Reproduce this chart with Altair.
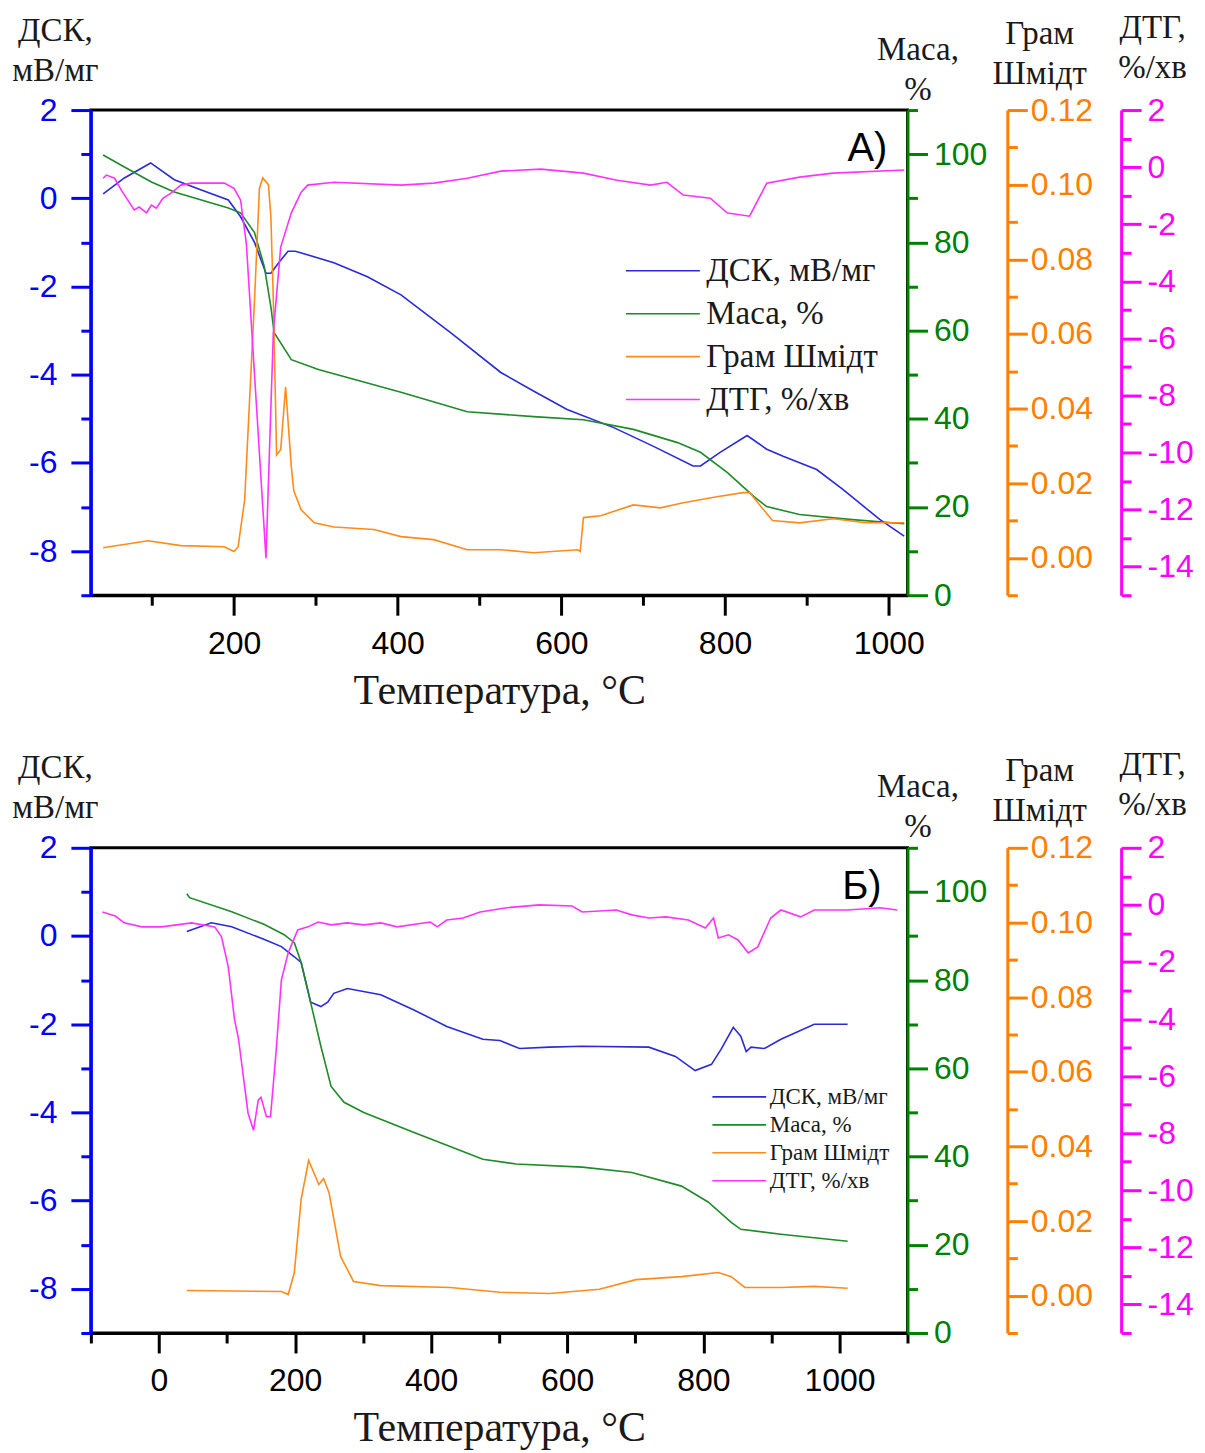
import altair as alt
import pandas as pd

# ---------------- Panel А ----------------
A_DSC_T = [40, 66, 98, 127, 160, 193, 208, 225, 239, 245, 255, 266, 275, 322, 363, 404, 465, 526, 567, 607, 664, 712, 761, 770, 794, 827, 851, 871, 912, 944, 989, 1019]
A_DSC_V = [0.1, 0.46, 0.8, 0.42, 0.19, -0.04, -0.42, -1.0, -1.7, -1.7, -1.45, -1.2, -1.2, -1.46, -1.78, -2.19, -3.05, -3.95, -4.38, -4.79, -5.2, -5.62, -6.07, -6.07, -5.76, -5.38, -5.69, -5.85, -6.15, -6.6, -7.28, -7.66]

A_MASS_T = [40, 66, 99, 127, 160, 193, 208, 225, 237, 245, 249, 270, 303, 404, 485, 566, 627, 688, 742, 770, 803, 835, 851, 891, 952, 1019]
A_MASS_V = [99.8, 97.1, 93.7, 91.4, 89.6, 87.8, 86.7, 82.2, 74.5, 65.4, 59.5, 53.4, 51.2, 46.0, 41.6, 40.5, 39.8, 37.6, 34.6, 32.4, 27.8, 22.4, 20.1, 18.3, 17.2, 16.2]

A_GS_T = [40, 95, 135, 188, 200, 205, 213, 219, 225, 231, 235, 242, 245, 248, 252, 257, 263, 270, 273, 282, 298, 322, 371, 404, 444, 485, 526, 566, 620, 623, 627, 648, 688, 721, 749, 790, 822, 830, 858, 891, 932, 972, 1019]
A_GS_V = [0.0027, 0.0046, 0.0033, 0.003, 0.0017, 0.003, 0.0156, 0.0424, 0.069, 0.099, 0.1018, 0.1, 0.0914, 0.069, 0.0276, 0.029, 0.0458, 0.0244, 0.018, 0.0129, 0.0094, 0.0083, 0.0076, 0.0057, 0.0049, 0.0022, 0.0022, 0.0014, 0.0022, 0.0017, 0.0108, 0.0113, 0.0142, 0.0134, 0.0148, 0.0164, 0.0175, 0.0175, 0.01, 0.0094, 0.0105, 0.0094, 0.0094]

A_DTG_T = [40, 44, 54, 62, 78, 84, 93, 99, 105, 113, 123, 135, 148, 188, 200, 208, 215, 239, 248, 257, 270, 282, 290, 322, 404, 444, 485, 526, 575, 627, 668, 709, 729, 749, 782, 803, 830, 851, 891, 932, 1019]
A_DTG_V = [-0.39, -0.28, -0.39, -0.8, -1.5, -1.4, -1.6, -1.33, -1.44, -1.09, -0.91, -0.63, -0.56, -0.56, -0.74, -1.16, -2.67, -13.7, -5.8, -2.8, -1.6, -0.88, -0.63, -0.53, -0.63, -0.56, -0.39, -0.14, -0.07, -0.21, -0.46, -0.63, -0.53, -0.98, -1.09, -1.61, -1.72, -0.56, -0.35, -0.21, -0.1]

# ---------------- Panel Б ----------------
B_DSC_T = [41, 77, 107, 155, 180, 199, 209, 223, 238, 248, 257, 277, 326, 374, 423, 476, 501, 530, 574, 622, 720, 759, 788, 812, 826, 844, 855, 863, 870, 890, 914, 963, 1012]
B_DSC_V = [0.1, 0.3, 0.21, -0.08, -0.24, -0.47, -0.6, -1.5, -1.6, -1.5, -1.3, -1.19, -1.33, -1.67, -2.05, -2.34, -2.37, -2.55, -2.52, -2.5, -2.52, -2.73, -3.05, -2.91, -2.57, -2.07, -2.27, -2.62, -2.52, -2.55, -2.34, -2.0, -2.0]

B_MASS_T = [41, 45, 107, 155, 184, 199, 209, 223, 238, 253, 272, 301, 374, 476, 525, 622, 695, 768, 807, 841, 855, 914, 1012]
B_MASS_V = [99.6, 98.7, 95.5, 92.6, 90.3, 88.5, 84.0, 74.9, 65.0, 55.9, 52.3, 50.0, 45.5, 39.4, 38.3, 37.6, 36.4, 33.3, 29.7, 25.1, 23.5, 22.4, 20.8]

B_GS_T = [41, 180, 190, 199, 209, 220, 235, 242, 250, 267, 286, 326, 428, 501, 574, 647, 701, 768, 822, 841, 861, 914, 963, 1012]
B_GS_V = [0.0014, 0.0011, 0.0003, 0.0062, 0.0258, 0.0362, 0.0298, 0.0314, 0.0276, 0.0105, 0.0038, 0.0027, 0.0022, 0.0009, 0.0006, 0.0017, 0.0043, 0.0051, 0.0062, 0.0051, 0.0022, 0.0022, 0.0025, 0.002]

B_DTG_T = [-83, -64, -51, -25, 4, 48, 82, 92, 102, 111, 117, 131, 139, 146, 150, 158, 164, 172, 180, 190, 204, 219, 234, 253, 277, 301, 326, 350, 399, 409, 423, 447, 472, 511, 559, 607, 622, 672, 695, 720, 745, 778, 803, 815, 822, 837, 851, 866, 880, 899, 914, 943, 963, 1012, 1060, 1085]
B_DTG_V = [-0.25, -0.39, -0.63, -0.77, -0.77, -0.63, -0.77, -1.12, -2.18, -4.0, -4.7, -7.3, -7.9, -6.84, -6.74, -7.42, -7.42, -5.2, -2.63, -1.68, -0.88, -0.77, -0.6, -0.7, -0.63, -0.7, -0.63, -0.77, -0.6, -0.77, -0.53, -0.46, -0.25, -0.1, 0.0, -0.04, -0.25, -0.18, -0.35, -0.46, -0.42, -0.53, -0.81, -0.46, -1.16, -1.05, -1.23, -1.68, -1.47, -0.46, -0.18, -0.42, -0.18, -0.18, -0.1, -0.18]

SERIES = ["ДСК, мВ/мг", "Маса, %", "Грам Шмідт", "ДТГ, %/хв"]
LINE_COLORS = ["#2a2ad8", "#1e8a28", "#ff8c1a", "#ff33ff"]
AX_BLUE, AX_GREEN, AX_ORANGE, AX_MAG = "#0000ff", "#008000", "#ff8000", "#ff00ff"

SANS = "Liberation Sans"
SERIF = "Liberation Serif"
TICK_FS = 32
TITLE_FS = 33
TITLE_COLOR = "#1a1a1a"
PLOT_W, PLOT_H = 818, 486


def lab_expr(major):
    return (f"({major}) ? (datum.value < 0 ? '-' + replace(datum.label, /[^0-9.]/g, '') : datum.label) : ''")


def yaxis(orient, offset, values, major, color, title, tx, ty, pad, fmt):
    return alt.Axis(
        orient=orient, offset=offset, values=values, format=fmt,
        domainColor=color, domainWidth=3, tickColor=color, tickWidth=3,
        tickSize={"condition": {"test": major, "value": 20}, "value": 10},
        labelExpr=lab_expr(major),
        labelColor=color, labelFont=SANS, labelFontSize=TICK_FS, labelPadding=pad,
        labelOverlap=False, labelFlush=False, grid=False,
        title=title, titleAngle=0, titleX=tx, titleY=ty, titleAlign="center",
        titleBaseline="bottom", titleFont=SERIF, titleFontSize=TITLE_FS,
        titleFontWeight="normal", titleColor=TITLE_COLOR, titleLineHeight=40,
    )


def xaxis(values):
    return alt.Axis(
        values=values, format="d",
        tickSize={"condition": {"test": "datum.value % 200 == 0", "value": 20}, "value": 10},
        labelExpr="datum.value % 200 == 0 ? datum.label : ''",
        domainColor="black", domainWidth=3, tickColor="black", tickWidth=3,
        labelFont=SANS, labelFontSize=TICK_FS, labelColor="black", labelPadding=13,
        labelOverlap=False, labelFlush=False, grid=False,
        title="Температура, °C", titleFont=SERIF, titleFontSize=42,
        titleFontWeight="normal", titleColor=TITLE_COLOR, titlePadding=11,
    )


def panel(data, x_domain, x_values, tag, tag_t, tag_v, leg):
    x = alt.X("T:Q", scale=alt.Scale(domain=x_domain, nice=False, zero=False), axis=xaxis(x_values))
    color = alt.Color("s:N", scale=alt.Scale(domain=SERIES, range=LINE_COLORS), legend=alt.Legend(**leg))
    specs = [
        ([-9, 2], yaxis("left", 0, list(range(-9, 3)), "abs(datum.value) % 2 == 0", AX_BLUE,
                        ["ДСК,", "мВ/мг"], -36, -63, 14, "d")),
        ([0, 110], yaxis("right", 0, list(range(0, 111, 10)), "datum.value % 20 == 0", AX_GREEN,
                         ["Маса,", "%"], 10, -44, 6, "d")),
        ([-0.01, 0.12], yaxis("right", 100, [round(-0.01 + 0.01 * i, 2) for i in range(14)],
                              "abs(round(datum.value * 100)) % 2 == 0", AX_ORANGE,
                              ["Грам", "Шмідт"], 32, -60, 3, ".2f")),
        ([-15, 2], yaxis("right", 214, list(range(-15, 3)), "abs(datum.value) % 2 == 0", AX_MAG,
                         ["ДТГ,", "%/хв"], 31, -66, 6, "d")),
    ]
    layers = []
    for (t, v), name, (dom, ax) in zip(data, SERIES, specs):
        df = pd.DataFrame({"T": t, "v": v, "s": name})
        layers.append(
            alt.Chart(df).mark_line(strokeWidth=1.6).encode(
                x=x,
                y=alt.Y("v:Q", scale=alt.Scale(domain=dom, nice=False, zero=False), axis=ax),
                color=color,
            )
        )
    tag_df = pd.DataFrame({"T": [tag_t], "v": [tag_v], "t": [tag]})
    layers.append(
        alt.Chart(tag_df).mark_text(font=SANS, fontSize=40, color="black", align="center", baseline="middle").encode(
            x=x,
            y=alt.Y("v:Q", scale=alt.Scale(domain=[-9, 2], nice=False, zero=False), axis=None),
            text="t:N",
        )
    )
    return (
        alt.layer(*layers)
        .resolve_scale(y="independent")
        .properties(width=PLOT_W, height=PLOT_H,
                    view=alt.ViewBackground(stroke="black", strokeWidth=3, fill="white"))
    )


legA = dict(orient="none", legendX=536, legendY=144.5, title=None, padding=0,
            symbolType="M-10,0H10", symbolSize=54.8, symbolOffset=20.5, symbolStrokeWidth=1.6,
            labelOffset=27, labelLimit=500, labelFont=SERIF, labelFontSize=33,
            labelColor=TITLE_COLOR, rowPadding=9)
legB = dict(orient="none", legendX=624, legendY=238, title=None, padding=0,
            symbolType="M-10,0H10", symbolSize=29, symbolOffset=14, symbolStrokeWidth=1.6,
            labelOffset=19, labelLimit=500, labelFont=SERIF, labelFontSize=23,
            labelColor=TITLE_COLOR, rowPadding=4)

pA = panel([(A_DSC_T, A_DSC_V), (A_MASS_T, A_MASS_V), (A_GS_T, A_GS_V), (A_DTG_T, A_DTG_V)],
           [25, 1023], list(range(100, 1001, 100)), "А)", 974, 1.12, legA)
pB = panel([(B_DSC_T, B_DSC_V), (B_MASS_T, B_MASS_V), (B_GS_T, B_GS_V), (B_DTG_T, B_DTG_V)],
           [-100, 1100], list(range(-100, 1101, 100)), "Б)", 1033, 1.12, legB)

chart = (
    alt.vconcat(pA, pB, spacing=34)
    .resolve_scale(color="independent", x="independent")
    .resolve_legend(color="independent")
    .configure_view(stroke="black", strokeWidth=3)
    .configure(background="white", padding={"left": 2, "right": 2, "top": 0, "bottom": 0})
)

chart.save("out.html", embed_options={"renderer": "svg", "actions": False})
